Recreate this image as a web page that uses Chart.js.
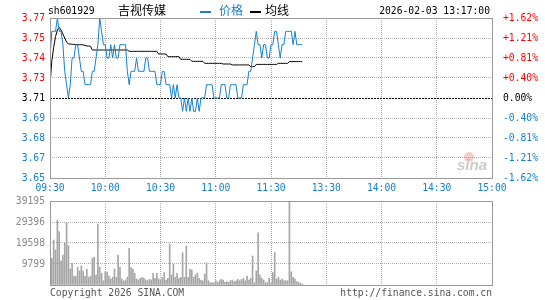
<!DOCTYPE html>
<html>
<head>
<meta charset="utf-8">
<script src="https://cdn.jsdelivr.net/npm/chart.js@4.4.1/dist/chart.umd.min.js"></script>
<style>
  html, body { margin: 0; padding: 0; background: #fff; }
  #wrap { position: relative; width: 545px; height: 300px; overflow: hidden; }
  #priceCanvas { position: absolute; left: 0; top: 0; }
  #volCanvas { position: absolute; left: 0; top: 190px; }
  .txt { position: absolute; white-space: nowrap; font-family: "DejaVu Sans Mono", monospace; font-size: 9.7px; line-height: 12px; }
  .cjk { position: absolute; white-space: nowrap; font-family: "Noto Sans CJK SC", sans-serif; font-size: 12px; line-height: 12px; }
  .dash { position: absolute; width: 11px; height: 2px; }
</style>
</head>
<body>
<div id="wrap">
  <canvas id="priceCanvas" width="545" height="196"></canvas>
  <canvas id="volCanvas" width="545" height="110"></canvas>

  <span class="txt" style="left:48px;top:5px;color:#000">sh601929</span>
  <span class="cjk" style="left:118px;top:4px;color:#000">吉视传媒</span>
  <div class="dash" style="left:200px;top:11px;background:#1580d0"></div>
  <span class="cjk" style="left:219px;top:4px;color:#1580d0">价格</span>
  <div class="dash" style="left:250px;top:11px;background:#000"></div>
  <span class="cjk" style="left:265px;top:4px;color:#000">均线</span>
  <span class="txt" style="right:55px;top:5px;color:#000">2026-02-03 13:17:00</span>

  <span class="txt" style="left:50px;top:287px;color:#555">Copyright 2026 SINA.COM</span>
  <span class="txt" style="right:53px;top:287px;color:#555">http://finance.sina.com.cn</span>
</div>
<script>
// minute index: 0 = 09:30, 120 = 11:30/13:00, 240 = 15:00
const prevClose = 3.71;

const prices = [
  3.74, 3.76, 3.76, 3.76, 3.77, 3.76, 3.76, 3.75, 3.73, 3.72,
  3.71, 3.72, 3.74, 3.74, 3.75, 3.75, 3.74, 3.73, 3.73, 3.72,
  3.72, 3.72, 3.72, 3.73, 3.73, 3.74, 3.75, 3.77, 3.76, 3.75,
  3.75, 3.74, 3.74, 3.75, 3.74, 3.75, 3.74, 3.74, 3.75, 3.75,
  3.75, 3.75, 3.73, 3.72, 3.73, 3.73, 3.73, 3.74, 3.73, 3.73,
  3.73, 3.73, 3.74, 3.74, 3.73, 3.73, 3.73, 3.73, 3.72, 3.72,
  3.72, 3.73, 3.73, 3.72, 3.72, 3.72, 3.71, 3.72, 3.71, 3.72,
  3.71, 3.71, 3.70, 3.71, 3.70, 3.71, 3.70, 3.71, 3.70, 3.70,
  3.71, 3.70, 3.71, 3.71, 3.71, 3.72, 3.72, 3.72, 3.72, 3.71,
  3.71, 3.71, 3.71, 3.72, 3.72, 3.72, 3.71, 3.71, 3.72, 3.72,
  3.72, 3.72, 3.71, 3.71, 3.71, 3.72, 3.72, 3.72, 3.73, 3.73,
  3.74, 3.75, 3.76, 3.75, 3.75, 3.74, 3.75, 3.75, 3.74, 3.74,
  3.75, 3.75, 3.76, 3.76, 3.75, 3.74, 3.75, 3.75, 3.76, 3.76,
  3.76, 3.76, 3.75, 3.76, 3.75, 3.75, 3.75, 3.75
];

const avgPrices = [
  3.720, 3.738, 3.748, 3.756, 3.761, 3.763, 3.761, 3.758, 3.755, 3.752,
  3.7505, 3.7505, 3.7503, 3.7502, 3.750, 3.750, 3.750, 3.750, 3.7498, 3.7495,
  3.749, 3.749, 3.7488, 3.746, 3.746, 3.746, 3.746, 3.746, 3.746, 3.746,
  3.746, 3.746, 3.746, 3.746, 3.746, 3.746, 3.746, 3.746, 3.746, 3.746,
  3.746, 3.746, 3.746, 3.745, 3.745, 3.745, 3.745, 3.745, 3.745, 3.745,
  3.745, 3.745, 3.745, 3.745, 3.745, 3.745, 3.745, 3.745, 3.745, 3.743,
  3.743, 3.743, 3.743, 3.743, 3.741, 3.741, 3.741, 3.741, 3.741, 3.741,
  3.741, 3.739, 3.739, 3.739, 3.739, 3.739, 3.739, 3.7375, 3.7375, 3.7375,
  3.7375, 3.7375, 3.7375, 3.7375, 3.736, 3.736, 3.736, 3.736, 3.736, 3.736,
  3.736, 3.736, 3.736, 3.736, 3.7355, 3.7355, 3.7355, 3.7355, 3.7355, 3.7348,
  3.7348, 3.7348, 3.7348, 3.7348, 3.7348, 3.7348, 3.7348, 3.7348, 3.7348, 3.7335,
  3.7335, 3.7335, 3.7352, 3.7352, 3.7352, 3.7352, 3.7352, 3.7352, 3.7352, 3.7352,
  3.7352, 3.7352, 3.7352, 3.7352, 3.736, 3.736, 3.736, 3.736, 3.736, 3.736,
  3.7373, 3.7373, 3.7373, 3.7373, 3.7373, 3.7373, 3.7373, 3.7373
];

const volumes = [
  3590, 12450, 21000, 16330, 30330, 24870, 11200, 14000, 19460, 29070,
  18340, 7470, 10120, 4200, 4000, 8260, 6530, 8870, 6530, 4000,
  7310, 3590, 4000, 12450, 12920, 4670, 28470, 8260, 5450, 2000,
  6200, 6000, 4200, 2800, 3590, 7470, 3590, 14000, 8260, 2800,
  1870, 2330, 3590, 17110, 8100, 7470, 5450, 2800, 2330, 3110,
  3590, 3110, 2330, 2000, 2640, 2330, 5450, 3110, 5450, 2800,
  2330, 3590, 5760, 2330, 3110, 19130, 4670, 9800, 3590, 5450,
  3110, 3590, 15090, 3590, 18200, 3590, 7470, 7000, 3590, 4670,
  5450, 3110, 2330, 2000, 5130, 10400, 2000, 1070, 1070, 1070,
  2000, 1250, 2000, 2640, 2330, 1250, 1560, 1250, 2000, 2330,
  1560, 2000, 2640, 2000, 2640, 3110, 2000, 4200, 2330, 3110,
  13530, 1070, 6530, 24400, 4670, 3110, 2330, 1070, 1070, 3110,
  1070, 5760, 15090, 2800, 3590, 2330, 2800, 2000, 2000, 2000,
  39195, 6200, 3590, 2800, 1560, 1250, 780, 500
];

const timeTicks = [0, 30, 60, 90, 120, 150, 180, 210, 240];
const timeLabels = ['09:30', '10:00', '10:30', '11:00', '11:30', '13:30', '14:00', '14:30', '15:00'];

const priceTicks = [3.65, 3.665, 3.68, 3.695, 3.71, 3.725, 3.74, 3.755, 3.77];
const priceLabels = ['3.65', '3.67', '3.68', '3.69', '3.71', '3.73', '3.74', '3.75', '3.77'];
const pctLabels = ['-1.62%', '-1.21%', '-0.81%', '-0.40%', '0.00%', '+0.40%', '+0.81%', '+1.21%', '+1.62%'];

const volTicks = [0, 9799, 19598, 29396, 39195];
const volLabels = ['', '9799', '19598', '29396', '39195'];

const BLUE = '#1580d0';
const RED = '#ff0000';
const GRID = '#b0b0b0';
const FRAME = '#999999';
const monoFont = { family: '"DejaVu Sans Mono", monospace', size: 9.7 };

function sideColor(i) {
    if (i < 4) return BLUE;
    if (i === 4) return '#000';
    return RED;
}

// gray box around each plot
const framePlugin = {
    id: 'frame',
    afterDraw(chart) {
        const { ctx, chartArea: a } = chart;
        const l = Math.round(a.left), t = Math.round(a.top);
        const r = Math.round(a.right), b = Math.round(a.bottom);
        ctx.save();
        ctx.strokeStyle = FRAME;
        ctx.lineWidth = 1;
        ctx.strokeRect(l + 0.5, t + 0.5, r - l, b - t);
        ctx.restore();
    }
};

const watermark = {
    id: 'watermark',
    beforeDatasetsDraw(chart) {
        const { ctx, chartArea: a } = chart;
        ctx.save();
        ctx.fillStyle = 'rgba(225,110,110,0.35)';
        ctx.beginPath();
        ctx.arc(a.right - 23, a.bottom - 21, 5, 0, Math.PI * 2);
        ctx.fill();
        ctx.font = 'italic bold 15px "Liberation Sans", sans-serif';
        ctx.fillStyle = 'rgba(140,140,140,0.45)';
        ctx.fillText('sina', a.right - 35, a.bottom - 8);
        ctx.restore();
    }
};

new Chart(document.getElementById('priceCanvas'), {
    type: 'line',
    data: {
        datasets: [
            {
                label: '价格',
                data: prices.map((p, i) => ({ x: i, y: p })),
                borderColor: BLUE,
                borderWidth: 1,
                pointRadius: 0,
                tension: 0
            },
            {
                label: '均线',
                data: avgPrices.map((p, i) => ({ x: i, y: p })),
                borderColor: '#000',
                borderWidth: 1,
                pointRadius: 0,
                tension: 0
            }
        ]
    },
    options: {
        responsive: false,
        animation: false,
        events: [],
        layout: { padding: { top: 18, left: 0, right: 0, bottom: 0 } },
        plugins: { legend: { display: false }, tooltip: { enabled: false } },
        scales: {
            x: {
                type: 'linear', min: 0, max: 240,
                afterBuildTicks: s => { s.ticks = timeTicks.map(v => ({ value: v })); },
                afterFit: s => { s.height = 18; },
                ticks: { callback: (v, i) => timeLabels[i], color: BLUE, padding: 5, maxRotation: 0, autoSkip: false, font: monoFont },
                grid: { color: GRID, drawTicks: false },
                border: { display: false, dash: [1, 1] }
            },
            y: {
                position: 'left', min: 3.65, max: 3.77,
                afterBuildTicks: s => { s.ticks = priceTicks.map(v => ({ value: v })); },
                afterFit: s => { s.width = 50; },
                ticks: { callback: (v, i) => priceLabels[i], color: c => sideColor(c.index), padding: 5, font: monoFont },
                grid: { color: c => (c.tick && c.tick.value === prevClose) ? 'rgba(0,0,0,0)' : GRID, drawTicks: false },
                border: { display: false, dash: [1, 1] }
            },
            yRef: {
                position: 'left', min: 3.65, max: 3.77,
                afterBuildTicks: s => { s.ticks = [{ value: prevClose }]; },
                afterFit: s => { s.width = 0; },
                ticks: { display: false },
                grid: { color: '#000', drawTicks: false },
                border: { display: false, dash: [2, 1] }
            },
            y2: {
                position: 'right', min: 3.65, max: 3.77,
                afterBuildTicks: s => { s.ticks = priceTicks.map(v => ({ value: v })); },
                afterFit: s => { s.width = 53; },
                ticks: { callback: (v, i) => pctLabels[i], color: c => sideColor(c.index), padding: 3, font: monoFont },
                grid: { display: false },
                border: { display: false }
            }
        }
    },
    plugins: [watermark, framePlugin]
});

new Chart(document.getElementById('volCanvas'), {
    type: 'bar',
    data: {
        datasets: [{
            label: '成交量',
            data: volumes.map((v, i) => ({ x: i, y: v })),
            backgroundColor: '#a6a6a6',
            barThickness: 1,
            borderWidth: 0
        }]
    },
    options: {
        responsive: false,
        animation: false,
        events: [],
        layout: { padding: { top: 11, left: 0, right: 53, bottom: 0 } },
        plugins: { legend: { display: false }, tooltip: { enabled: false } },
        scales: {
            x: {
                type: 'linear', min: 0, max: 240, offset: false,
                afterBuildTicks: s => { s.ticks = timeTicks.map(v => ({ value: v })); },
                afterFit: s => { s.height = 15; },
                ticks: { display: false },
                grid: { color: GRID, drawTicks: false, offset: false },
                border: { display: false, dash: [1, 1] }
            },
            y: {
                position: 'left', min: 0, max: 39195,
                afterBuildTicks: s => { s.ticks = volTicks.map(v => ({ value: v })); },
                afterFit: s => { s.width = 50; },
                ticks: { callback: (v, i) => volLabels[i], color: '#888', padding: 5, font: monoFont },
                grid: { color: GRID, drawTicks: false },
                border: { display: false, dash: [1, 1] }
            }
        }
    },
    plugins: [framePlugin]
});
</script>
</body>
</html>
